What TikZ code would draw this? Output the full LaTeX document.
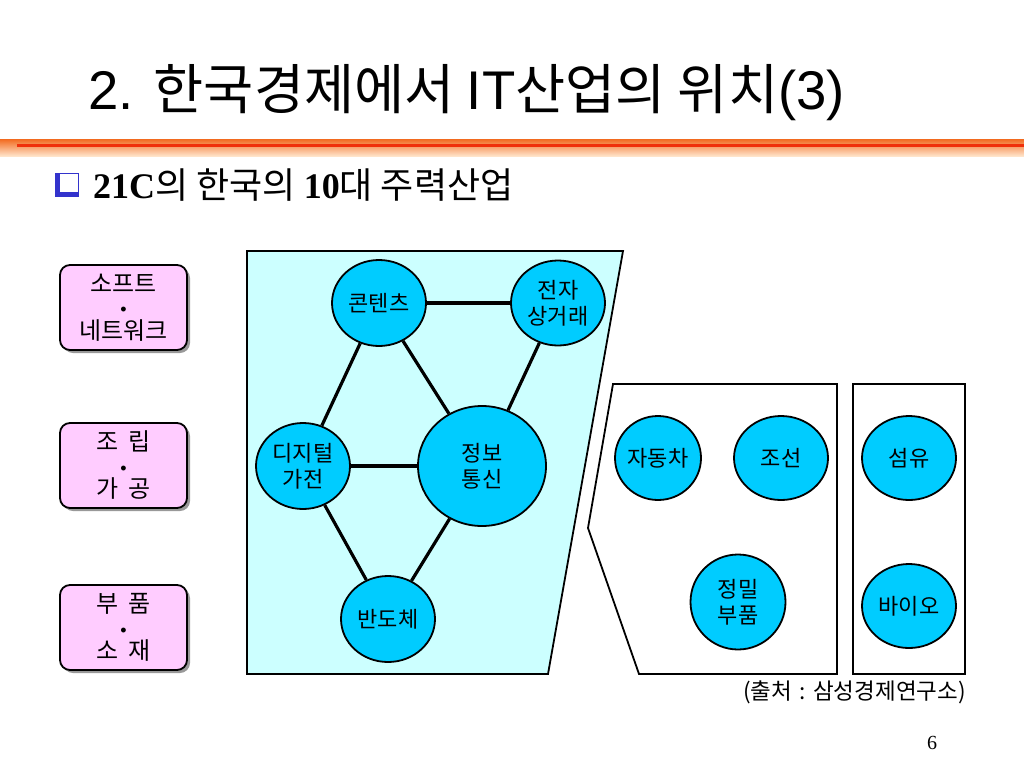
\documentclass[tikz,border=0pt]{standalone}
\usepackage{fontspec}
\setmainfont{Noto Sans CJK KR}
\newfontfamily\ar{Liberation Sans}
\newfontfamily\tm{Liberation Serif}
\usetikzlibrary{shapes.geometric,shadows}
\definecolor{bubble}{HTML}{00CCFF}
\definecolor{panel}{HTML}{CCFFFF}
\definecolor{pinkbox}{HTML}{FFCCFF}
\definecolor{bandtop}{HTML}{F26A1F}
\definecolor{bandbot}{HTML}{FFE4CA}
\definecolor{bandline}{HTML}{F0300A}
\definecolor{chk}{HTML}{3333CC}
\begin{document}
\begin{tikzpicture}[x=1pt,y=-1pt,
  bub/.style={ellipse, draw, line width=1.8pt, fill=bubble, inner sep=0pt, align=center,
    font=\fontsize{22}{26}\selectfont},
  link/.style={line width=3.2pt},
  frame/.style={draw, line width=1.8pt},
  sidebox/.style={rounded corners=10pt, draw, line width=1.8pt, fill=pinkbox,
    minimum width=127pt, minimum height=85pt, align=center, inner sep=0pt,
    font=\fontsize{24}{23.5}\selectfont,
    drop shadow={shadow xshift=3pt, shadow yshift=-3pt, fill=gray!80, opacity=1}},
  dotline/.style={}]
\useasboundingbox (0,0) rectangle (1024,768);
\fill[white] (0,0) rectangle (1024,768);

% title
\node[anchor=base west, inner sep=0pt] (title) at (88,109)
  {\fontsize{54.5}{60}\selectfont\ar 2. \rmfamily 한국경제에서 \ar IT\rmfamily 산업의 위치\ar (3)};

% orange band
\shade[top color=bandtop, bottom color=bandbot] (0,139) rectangle (1024,156);
\draw[bandline, line width=3pt] (17,145.5) -- (1024,145.5);

% subtitle
\fill[chk] (55,173) rectangle (79,197);
\fill[white] (59,173.5) rectangle (78.5,193);
\draw[chk, line width=1.4pt] (59,173.7) rectangle (78.3,193);
\node[anchor=base west, inner sep=0pt] (sub) at (93,198)
  {\fontsize{36}{40}\selectfont{\tm\bfseries 21C}의 한국의 {\tm\bfseries 10}대 주력산업};

% side boxes
\node[sidebox] (b1) at (123.5,307.5) {소프트\\{\ar\fontsize{18}{16}\selectfont •}\\네트워크};
\node[sidebox] (b2) at (123.5,465.5) {조\hspace{9pt}립\\{\ar\fontsize{18}{16}\selectfont •}\\가\hspace{9pt}공};
\node[sidebox] (b3) at (123.5,627.5) {부\hspace{9pt}품\\{\ar\fontsize{18}{16}\selectfont •}\\소\hspace{9pt}재};

% panels
\draw[frame, fill=panel] (247,251) -- (623,251) -- (548,674) -- (247,674) -- cycle;
\draw[frame, fill=white] (613,384) -- (837,384) -- (837,674) -- (639,674) -- (588,528) -- cycle;
\draw[frame, fill=white] (853,384) rectangle (965,674);

% IT bubbles
\node[bub, minimum width=94pt, minimum height=86pt] (cont) at (379,303) {콘텐츠};
\node[bub, minimum width=94pt, minimum height=85pt] (ecom) at (558,303) {전자\\상거래};
\node[bub, minimum width=94pt, minimum height=86pt] (digi) at (303,466) {디지털\\가전};
\node[bub, minimum width=128pt, minimum height=120pt] (info) at (482,466) {정보\\통신};
\node[bub, minimum width=94pt, minimum height=86pt] (semi) at (388,619) {반도체};

\draw[link] (cont) -- (ecom);
\draw[link] (cont) -- (digi);
\draw[link] (cont) -- (info);
\draw[link] (ecom) -- (info);
\draw[link] (digi) -- (info);
\draw[link] (digi) -- (semi);
\draw[link] (semi) -- (info);

% other bubbles
\node[bub, minimum width=86pt, minimum height=84pt] (car) at (658,458) {자동차};
\node[bub, minimum width=94pt, minimum height=84pt] (ship) at (781,458) {조선};
\node[bub, minimum width=95pt, minimum height=95pt] (prec) at (738,602) {정밀\\부품};
\node[bub, minimum width=94pt, minimum height=84pt] (fib) at (909,458) {섬유};
\node[bub, minimum width=94pt, minimum height=84pt] (bio) at (909,606) {바이오};

% source and page number
\node[anchor=east, inner sep=0pt, font=\fontsize{22.5}{24}\selectfont] (src) at (966,692) {(출처\,\,:\,\,삼성경제연구소)};
\node[inner sep=0pt, font=\fontsize{20}{22}\selectfont\tm] (page) at (932,743) {6};
\end{tikzpicture}
\end{document}
